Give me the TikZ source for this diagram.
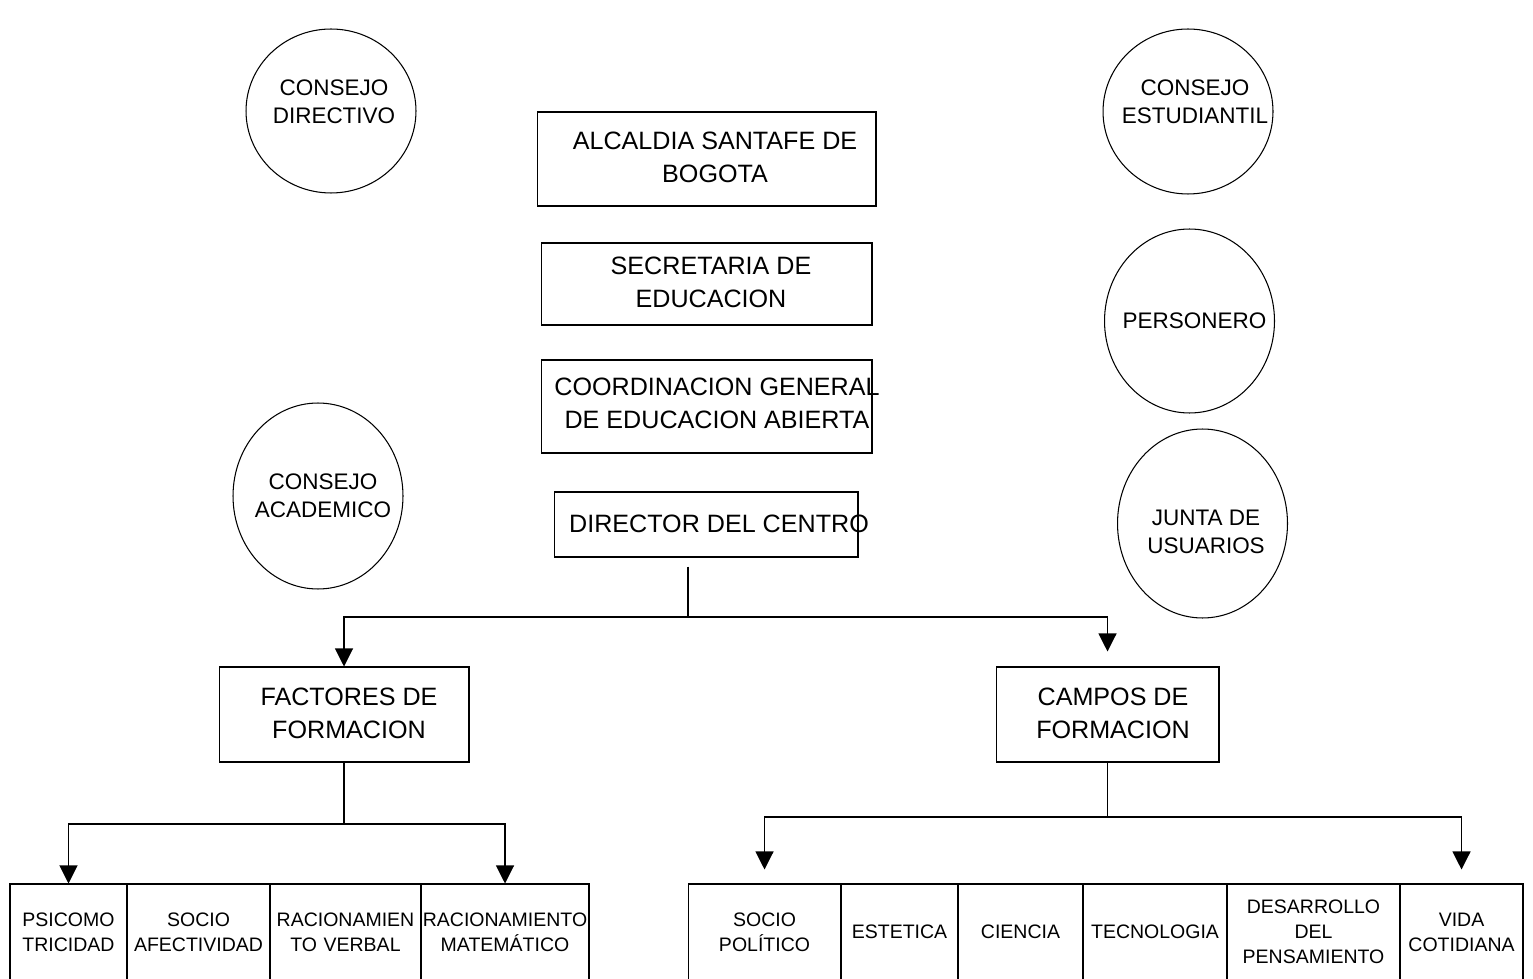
\documentclass[tikz,border=0pt]{standalone}
\usepackage{fontspec}
\setmainfont{Liberation Sans}
\usetikzlibrary{shapes.geometric,arrows.meta}

\newcommand\boxfont{\fontsize{14.3}{18.7}\selectfont}
\newcommand\ovalfont{\fontsize{12.8}{15.9}\selectfont}
\newcommand\cellfont{\fontsize{11.1}{14.2}\selectfont}

\tikzset{arrowline/.style={-{Triangle[width=0.36cm,length=0.36cm]}}}

\begin{document}
\begin{tikzpicture}[x=0.02cm,y=-0.02cm,line width=0.6pt]
      \useasboundingbox (0,0) rectangle (1533,979);

      \begin{scope}[every node/.style={ellipse,draw,minimum width=3.4cm}]
        \node[minimum height=3.28cm] (cdir)  at (331,111)    {};
        \node[minimum height=3.3cm]  (cest)  at (1188,111.5) {};
        \node[minimum height=3.68cm] (pers)  at (1189.5,321) {};
        \node[minimum height=3.78cm] (junta) at (1202.5,523.5) {};
        \node[minimum height=3.72cm] (cacad) at (318,496)    {};
      \end{scope}

      \begin{scope}[every node/.style={rectangle,draw}]
        \node[minimum width=6.78cm,minimum height=1.88cm] (alc)  at (706.5,159)   {};
        \node[minimum width=6.62cm,minimum height=1.64cm] (sec)  at (706.5,284)   {};
        \node[minimum width=6.62cm,minimum height=1.86cm] (coord) at (706.5,406.5) {};
        \node[minimum width=6.08cm,minimum height=1.3cm]  (dir)  at (706,524.5)   {};
        \node[minimum width=5cm,minimum height=1.9cm]     (fact) at (344,714.5)   {};
        \node[minimum width=4.46cm,minimum height=1.9cm]  (camp) at (1107.5,714.5) {};
      \end{scope}

      \begin{scope}[every node/.style={align=center,inner sep=0pt}]
        \begin{scope}[every node/.append style={font=\ovalfont}]
          \node (cdir-t)  at (334,102)   {CONSEJO\\DIRECTIVO};
          \node (cest-t)  at (1195,102)  {CONSEJO\\ESTUDIANTIL};
          \node (pers-t)  at (1194.5,321) {PERSONERO};
          \node (junta-t) at (1206,532)  {JUNTA DE\\USUARIOS};
          \node (cacad-t) at (323,496)   {CONSEJO\\ACADEMICO};
        \end{scope}
        \begin{scope}[every node/.append style={font=\boxfont}]
          \node (alc-t)   at (715,157)   {ALCALDIA SANTAFE DE\\BOGOTA};
          \node (sec-t)   at (711,282.5) {SECRETARIA DE\\EDUCACION};
          \node (coord-t) at (717,403.5) {COORDINACION GENERAL\\DE EDUCACION ABIERTA};
          \node (dir-t)   at (719,524)   {DIRECTOR DEL CENTRO};
          \node (fact-t)  at (349,713)   {FACTORES DE\\FORMACION};
          \node (camp-t)  at (1113,713)  {CAMPOS DE\\FORMACION};
        \end{scope}
      \end{scope}

      \begin{scope}[every node/.style={rectangle,draw,inner sep=0pt,align=center,
          minimum height=1.92cm,font=\cellfont}]
        \node[text width=2.34cm] (psico) at (68.5,932)  {PSICOMO\\TRICIDAD};
        \node[text width=2.86cm] (safec) at (198.5,932) {SOCIO\\AFECTIVIDAD};
        \node[text width=3.02cm] (raver) at (345.5,932) {RACIONAMIEN\\TO VERBAL};
        \node[text width=3.36cm] (ramat) at (505,932)   {RACIONAMIENTO\\MATEMÁTICO};

        \node[text width=3.06cm] (sopol) at (764.5,932)  {SOCIO\\POLÍTICO};
        \node[text width=2.34cm] (estet) at (899.5,932)  {ESTETICA};
        \node[text width=2.5cm]  (cienc) at (1020.5,932) {CIENCIA};
        \node[text width=2.88cm] (tecno) at (1155,932)   {TECNOLOGIA};
        \node[text width=3.46cm] (desar) at (1313.5,932) {DESARROLLO\\DEL\\PENSAMIENTO};
        \node[text width=2.46cm] (vida)  at (1461.5,932) {VIDA\\COTIDIANA};
      \end{scope}

      \coordinate (split)  at (688,617);
      \coordinate (fsplit) at (344,824);
      \coordinate (csplit) at (1107.5,817);

      \draw[shorten <=0.18cm] (split |- dir.south) -- (split);
      \draw[arrowline] (split) -| (fact.north);
      \draw[arrowline,shorten >=0.3cm] (split) -| (camp.north);

      \draw (fact) -- (fsplit);
      \draw[arrowline] (fsplit) -| (psico.north);
      \draw[arrowline] (fsplit) -| (ramat.north);

      \draw (camp) -- (csplit);
      \draw[arrowline,shorten >=0.28cm] (csplit) -| (sopol.north);
      \draw[arrowline,shorten >=0.28cm] (csplit) -| (vida.north);

    \end{tikzpicture}
\end{document}
